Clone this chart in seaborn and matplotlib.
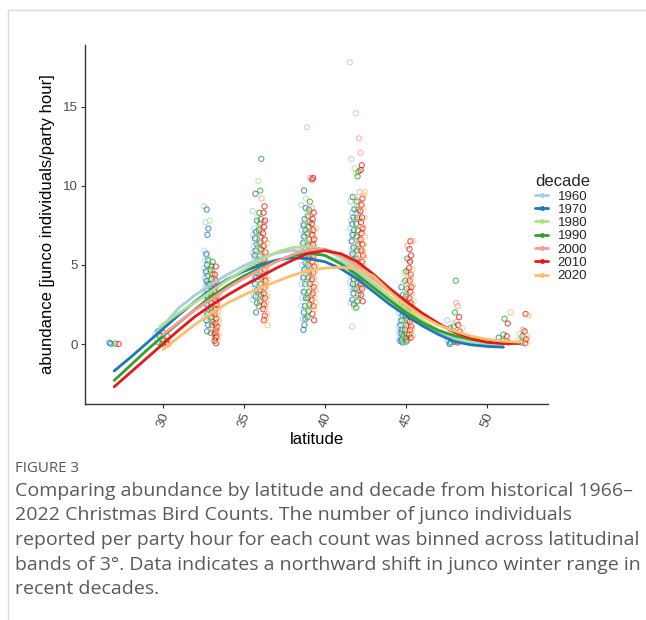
import numpy as np
import pandas as pd
import matplotlib
matplotlib.use("Agg")
import matplotlib.pyplot as plt
from matplotlib.lines import Line2D
import seaborn as sns

# ---------------- data ----------------
decades = ["1960", "1970", "1980", "1990", "2000", "2010", "2020"]

# observed abundance per latitude band, per decade
pts_1960 = {30: [0.6, 0.3],
            33: [8.7, 7.7, 5.9, 5.6, 5.3, 4.8, 4.5, 4.2, 3.9, 3.6, 3.3, 3.0, 2.6, 2.3, 2.1, 1.7],
            36: [8.4, 7.3, 6.9, 6.6, 6.2, 5.8, 5.4, 5.0, 4.7, 4.4, 4.0, 3.5, 3.1, 2.8],
            39: [8.8, 7.6, 7.2, 6.8, 6.3, 5.9, 5.5, 5.0, 4.6, 4.2, 3.8, 3.3, 2.9, 2.4, 1.6],
            42: [17.8, 11.7, 9.0, 8.3, 7.8, 7.3, 6.9, 6.5, 6.0, 5.6, 5.1, 4.7, 4.3, 3.9, 3.5, 2.6, 1.1],
            45: [2.8, 2.4, 2.0, 1.7, 1.4, 1.1, 0.9, 0.7, 0.5, 0.35, 0.2],
            48: [1.5, 0.6, 0.2, 0.05]}
pts_1970 = {27: [0.08, 0.02],
            30: [0.8, 0.5, 0.1],
            33: [8.5, 7.3, 6.9, 5.7, 5.3, 5.0, 4.6, 4.3, 4.0, 3.8, 3.4, 3.1, 2.8, 2.5, 2.2, 1.9, 1.5, 1.2, 0.8],
            36: [9.5, 7.8, 7.1, 6.7, 6.3, 5.9, 5.6, 5.2, 4.9, 4.5, 4.2, 3.8, 3.4, 3.0, 2.6, 2.0],
            39: [9.7, 8.6, 7.9, 7.5, 7.2, 6.8, 6.4, 6.0, 5.5, 5.1, 4.7, 4.2, 3.8, 3.3, 2.9, 2.4, 2.0, 1.6, 1.2, 0.9],
            42: [9.3, 8.5, 8.0, 7.6, 7.2, 6.9, 6.5, 6.1, 5.7, 5.3, 4.9, 4.5, 4.1, 3.8, 3.5, 3.2, 2.8, 2.5],
            45: [3.6, 3.1, 2.6, 2.2, 1.8, 1.5, 1.2, 0.9, 0.7, 0.5, 0.3, 0.2, 0.1],
            48: [1.0, 0.4, 0.1, 0.0],
            51: [0.4, 0.1]}
pts_1980 = {30: [0.4],
            33: [7.8, 5.4, 5.0, 4.6, 4.2, 3.9, 3.5, 3.2, 2.9, 2.7, 2.4, 2.2, 1.8, 1.5],
            36: [10.3, 8.0, 7.4, 6.9, 6.4, 6.0, 5.6, 5.2, 4.8, 4.4, 4.0, 3.6, 3.2, 2.9],
            39: [13.7, 9.2, 8.3, 7.8, 7.3, 6.9, 6.5, 6.1, 5.7, 5.2, 4.8, 4.4, 4.0, 3.5, 3.1, 2.6, 2.2, 1.5],
            42: [14.6, 11.1, 10.8, 9.3, 8.6, 7.9, 7.3, 6.8, 6.3, 5.9, 5.4, 5.0, 4.6, 4.2, 3.8, 3.4, 2.7, 2.3],
            45: [4.5, 3.9, 3.3, 2.8, 2.4, 2.0, 1.6, 1.3, 1.0, 0.7, 0.5, 0.3, 0.2],
            48: [1.3, 0.7, 0.3, 0.05],
            52.1: [0.6, 0.2]}
pts_1990 = {27: [0.03],
            30: [0.7, 0.2, 0.0],
            33: [5.2, 4.9, 4.7, 4.4, 4.1, 3.8, 3.5, 3.2, 3.0, 2.6, 2.3, 2.0, 1.7, 1.4, 1.2, 0.7],
            36: [11.7, 9.7, 8.3, 7.9, 7.6, 7.2, 6.8, 6.4, 6.0, 5.6, 5.3, 4.9, 4.6, 4.2, 3.8, 3.4, 3.1, 2.7, 2.4],
            39: [9.0, 8.5, 8.1, 7.7, 7.4, 7.0, 6.6, 6.2, 5.8, 5.4, 5.0, 4.6, 4.2, 3.8, 3.3, 2.9, 2.5, 2.1, 1.7],
            42: [10.9, 10.6, 9.0, 8.5, 8.0, 7.6, 7.2, 6.8, 6.3, 5.9, 5.4, 5.0, 4.6, 4.2, 3.9, 3.5, 3.1, 2.7, 2.3],
            45: [5.4, 4.6, 4.0, 3.5, 3.0, 2.6, 2.2, 1.8, 1.5, 1.2, 0.9, 0.6, 0.4, 0.25, 0.15],
            48: [4.0, 2.0, 1.1, 0.5, 0.15],
            51: [1.6, 0.6, 0.2],
            52.1: [0.5, 0.1]}
pts_2000 = {30: [0.3],
            33: [4.5, 4.1, 3.7, 3.4, 3.1, 2.8, 2.5, 2.1, 1.8, 1.5, 1.2, 0.9, 0.6],
            36: [9.2, 7.7, 7.2, 6.7, 6.2, 5.8, 5.3, 4.9, 4.5, 4.1, 3.7, 3.3, 2.9, 2.5],
            39: [10.5, 8.6, 8.2, 7.8, 7.3, 6.9, 6.5, 6.1, 5.6, 5.2, 4.8, 4.4, 4.0, 3.6, 3.1, 2.7],
            42: [13.0, 12.1, 9.6, 9.0, 8.4, 7.9, 7.4, 6.9, 6.5, 6.0, 5.6, 5.2, 4.8, 4.4, 4.0, 3.6, 3.2],
            45: [6.2, 5.3, 4.6, 4.1, 3.6, 3.1, 2.7, 2.3, 1.9, 1.5, 1.2, 0.9, 0.6, 0.3],
            48: [2.6, 2.4, 1.4, 0.7, 0.2],
            52.1: [0.9, 0.4]}
pts_2010 = {27: [0.0],
            30: [0.5, 0.1, 0.0],
            33: [4.9, 4.4, 4.0, 3.6, 3.3, 3.0, 2.8, 2.5, 2.2, 1.9, 1.6, 1.3, 1.1, 0.9, 0.7, 0.5, 0.4, 0.2, 0.05],
            36: [8.7, 8.3, 7.8, 7.4, 7.0, 6.6, 6.2, 5.8, 5.4, 5.0, 4.7, 4.3, 4.0, 3.6, 3.2, 2.9, 2.5, 2.2, 1.8, 1.5],
            39: [10.5, 10.4, 8.3, 7.9, 7.6, 7.2, 6.9, 6.6, 6.3, 5.9, 5.6, 5.2, 4.9, 4.5, 4.1, 3.6, 3.2, 2.8, 2.4, 1.9, 1.5],
            42: [11.3, 11.0, 9.2, 8.8, 8.4, 8.0, 7.7, 7.3, 7.0, 6.6, 6.3, 5.9, 5.6, 5.2, 4.9, 4.5, 4.2, 3.8, 3.5, 3.1, 2.7],
            45: [6.5, 6.0, 5.6, 5.2, 4.8, 4.4, 4.0, 3.6, 3.3, 2.9, 2.6, 2.3, 2.0, 1.7, 1.4, 1.1, 0.9, 0.6, 0.4],
            48: [1.7, 1.2, 0.8, 0.4, 0.1],
            51: [1.3, 0.5, 0.1],
            52.1: [1.9, 0.8, 0.3, 0.05]}
pts_2020 = {30: [0.1],
            33: [3.2, 2.8, 2.4, 2.1, 1.8, 1.5, 1.2, 0.9, 0.6, 0.3],
            36: [6.4, 5.8, 5.3, 4.9, 4.5, 4.1, 3.7, 3.3, 3.0, 2.6, 2.3, 1.9, 1.6, 1.2],
            39: [7.3, 6.7, 6.2, 5.8, 5.4, 5.0, 4.6, 4.2, 3.8, 3.4, 3.0, 2.6, 2.2],
            42: [9.6, 9.4, 8.6, 8.0, 7.4, 6.8, 6.3, 5.9, 5.5, 5.1, 4.7, 4.4, 4.0, 3.6],
            45: [6.5, 4.7, 4.2, 3.7, 3.2, 2.7, 2.3, 1.9, 1.5, 1.1, 0.8, 0.5],
            48: [1.0, 0.5, 0.2],
            51: [2.0],
            52.1: [1.8, 0.5, 0.1]}

# smoothed trend per decade (latitude, fitted abundance)
curve_lat_1960 = [29.6] + list(range(30, 52))
curve_val_1960 = [0.75, 1.15, 2.3, 3.1, 3.8, 4.4, 4.95, 5.4, 5.75, 5.92, 5.85, 5.6,
                  5.2, 4.55, 3.7, 2.8, 1.95, 1.25, 0.7, 0.3, 0.05, -0.05, -0.05]
curve_lat_1970 = list(range(27, 52))
curve_val_1970 = [-1.7, -0.85, 0.05, 0.95, 1.85, 2.7, 3.45, 4.1, 4.6, 5.0, 5.3, 5.45,
                  5.4, 5.2, 4.75, 4.1, 3.3, 2.5, 1.8, 1.15, 0.6, 0.15, -0.05, -0.15, -0.2]
curve_lat_1980 = [29.8] + list(range(30, 53))
curve_val_1980 = [1.1, 1.25, 1.97, 2.65, 3.35, 4.05, 4.7, 5.3, 5.8, 6.1, 6.18, 5.95,
                  5.45, 4.7, 3.85, 3.0, 2.2, 1.5, 0.9, 0.48, 0.2, 0.08, 0.05, 0.05]
curve_lat_1990 = list(range(27, 53))
curve_val_1990 = [-2.3, -1.35, -0.4, 0.5, 1.35, 2.2, 3.0, 3.7, 4.3, 4.8, 5.25, 5.6, 5.74,
                  5.6, 5.05, 4.35, 3.55, 2.75, 2.0, 1.35, 0.85, 0.52, 0.3, 0.12, 0.05, 0.03]
curve_lat_2000 = list(range(30, 53))
curve_val_2000 = [0.6, 1.4, 2.15, 2.85, 3.55, 4.15, 4.7, 5.2, 5.65, 6.0, 6.0, 5.6,
                  4.95, 4.1, 3.3, 2.6, 1.9, 1.25, 0.75, 0.4, 0.2, 0.1, 0.05]
curve_lat_2010 = list(range(27, 53))
curve_val_2010 = [-2.7, -1.8, -0.9, 0.0, 0.9, 1.75, 2.45, 3.1, 3.7, 4.25, 4.8, 5.3, 5.75,
                  5.9, 5.7, 5.2, 4.4, 3.5, 2.7, 1.95, 1.3, 0.75, 0.35, 0.12, 0.03, 0.05]
curve_lat_2020 = list(range(30, 53))
curve_val_2020 = [-0.35, 0.45, 1.25, 1.95, 2.6, 3.1, 3.55, 3.95, 4.35, 4.65, 4.8, 4.85,
                  4.75, 4.3, 3.3, 2.45, 1.75, 1.2, 0.82, 0.5, 0.3, 0.18, 0.12]

x_ticks = [30, 35, 40, 45, 50]
y_ticks = [0, 5, 10, 15]

caption_head = "FIGURE 3"
caption_lines = ["Comparing abundance by latitude and decade from historical 1966\u2013",
                 "2022 Christmas Bird Counts. The number of junco individuals",
                 "reported per party hour for each count was binned across latitudinal",
                 "bands of 3\u00b0. Data indicates a northward shift in junco winter range in",
                 "recent decades."]

# ---------------- assemble ----------------
pts_all = [pts_1960, pts_1970, pts_1980, pts_1990, pts_2000, pts_2010, pts_2020]
curves_lat = [curve_lat_1960, curve_lat_1970, curve_lat_1980, curve_lat_1990,
              curve_lat_2000, curve_lat_2010, curve_lat_2020]
curves_val = [curve_val_1960, curve_val_1970, curve_val_1980, curve_val_1990,
              curve_val_2000, curve_val_2010, curve_val_2020]

rows = []
for i, (dec, d) in enumerate(zip(decades, pts_all)):
    for lat, vals in d.items():
        for k, v in enumerate(vals):
            jit = (((k * 0.618 + i * 0.31) % 1.0) - 0.5) * 0.16
            rows.append({"decade": dec, "lat": lat + (i - 3) * 0.13 + jit, "abund": v})
pts_df = pd.DataFrame(rows)

crow = []
for dec, la, va in zip(decades, curves_lat, curves_val):
    for a, b in zip(la, va):
        crow.append({"decade": dec, "lat": a, "abund": b})
cur_df = pd.DataFrame(crow)

# ---------------- plot ----------------
sns.set_theme(style="white")
plt.rcParams["font.family"] = ["Liberation Sans", "DejaVu Sans"]

pal = sns.color_palette("Paired", 7)
pal_map = dict(zip(decades, pal))

fig = plt.figure(figsize=(6.46, 6.2), dpi=100)
ax = fig.add_axes([85 / 646, 1 - 404 / 620, (548 - 85) / 646, (404 - 45) / 620])

sns.scatterplot(data=pts_df, x="lat", y="abund", hue="decade", hue_order=decades,
                palette=pal_map, s=14, linewidth=0.8, legend=False, ax=ax, zorder=2)
coll = ax.collections[0]
fc = coll.get_facecolors()
fc[:, 3] = 0.75
coll.set_edgecolors(fc)
coll.set_facecolors("none")

sns.lineplot(data=cur_df, x="lat", y="abund", hue="decade", hue_order=decades,
             palette=pal_map, linewidth=2.0, legend=False, ax=ax, estimator=None,
             sort=True, zorder=3)

ax.set_xlim(25.2, 53.75)
ax.set_ylim(-3.79, 18.9)
ax.set_xticks(x_ticks)
ax.set_yticks(y_ticks)
ax.set_xticklabels([str(t) for t in x_ticks], rotation=70, ha="center", va="top")
ax.tick_params(axis="both", which="both", length=3, width=0.8, colors="#333333",
               labelcolor="#4d4d4d", labelsize=9.5, bottom=True, left=True, pad=2)
for s in ["top", "right"]:
    ax.spines[s].set_visible(False)
for s in ["left", "bottom"]:
    ax.spines[s].set_color("#333333")
    ax.spines[s].set_linewidth(1.0)
ax.set_xlabel("latitude", fontsize=12, color="black", labelpad=2)
ax.set_ylabel("abundance [junco individuals/party hour]", fontsize=12, color="black",
              labelpad=6)
ax.grid(False)

handles = [Line2D([0], [0], color=pal_map[d], lw=2, marker="o", markersize=2.5,
                  markerfacecolor=pal_map[d], markeredgecolor=pal_map[d]) for d in decades]
leg = fig.legend(handles, decades, title="decade", loc="upper left",
                 bbox_to_anchor=(526 / 646, 1 - 165 / 620), frameon=False,
                 fontsize=9.5, title_fontsize=12, handlelength=1.0, handletextpad=0.7,
                 labelspacing=0.08, alignment="left", borderpad=0.2)

# page frame lines
fig.add_artist(Line2D([8 / 646, 1.0], [1 - 10 / 620, 1 - 10 / 620], color="#d9d9d9", lw=1))
fig.add_artist(Line2D([8 / 646, 8 / 646], [0.0, 1 - 10 / 620], color="#d9d9d9", lw=1))

fig.text(15 / 646, 1 - 468 / 620, caption_head, fontsize=10.8, color="#555555",
         family=["Open Sans", "DejaVu Sans"], va="center", ha="left")
for j, line in enumerate(caption_lines):
    fig.text(15 / 646, 1 - (491 + j * 24.5) / 620, line, fontsize=14, color="#5a5a5a",
             family=["Open Sans", "DejaVu Sans"], va="center", ha="left")

fig.savefig("out.png", dpi=100, facecolor="white")
